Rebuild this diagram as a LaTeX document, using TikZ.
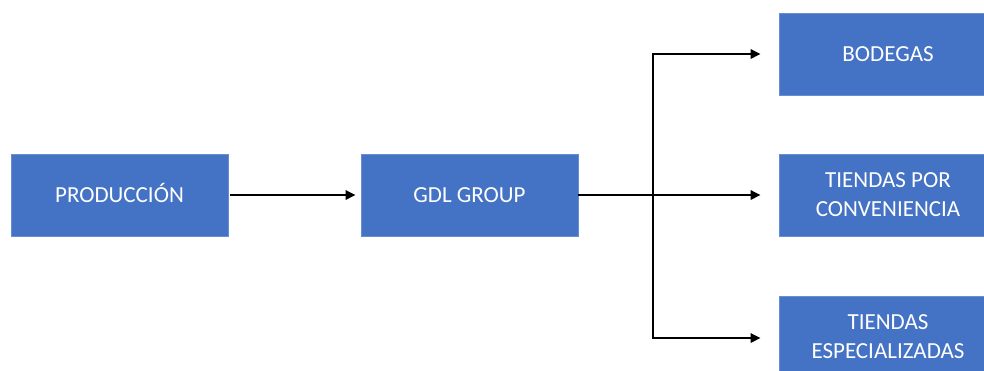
\documentclass[tikz,border=0pt]{standalone}
\usepackage{fontspec}
\setmainfont{Carlito}
\usetikzlibrary{arrows.meta}
\definecolor{boxblue}{HTML}{4472C4}
\begin{document}
\begin{tikzpicture}[x=1pt,y=-1pt,
  bluebox/.style={fill=boxblue, draw=boxblue!80!white, line width=0.6pt, text=white,
    minimum height=82pt, inner sep=2pt, align=center,
    font=\fontsize{23}{29}\selectfont},
  conn/.style={line width=2.8pt, black, -{Triangle[length=10pt,width=9pt]}}]
\useasboundingbox (0,0) rectangle (984,370);
\clip (0,0) rectangle (984,370);
\node[bluebox, minimum width=217pt] (prod) at (119.5,195) {PRODUCCI\smash{Ó}N};
\node[bluebox, minimum width=217pt] (gdl) at (469.5,195) {GDL GROUP};
\node[bluebox, minimum width=218pt] (bod) at (888,54) {BODEGAS};
\node[bluebox, minimum width=218pt] (conv) at (888,195) {TIENDAS POR\\CONVENIENCIA};
\node[bluebox, minimum width=218pt] (esp) at (888,337) {TIENDAS\\ESPECIALIZADAS};
\coordinate (j) at (653,195);
\draw[conn, shorten <=2pt, shorten >=5pt] (prod.east) -- (gdl.west);
\draw[conn, shorten >=18pt] (gdl.east) -- (conv.west);
\draw[conn, shorten >=18pt, line join=miter] (j) |- (bod.west);
\draw[conn, shorten >=18pt, line join=miter] (j) |- ([yshift=-1pt]esp.west);
\end{tikzpicture}
\end{document}
